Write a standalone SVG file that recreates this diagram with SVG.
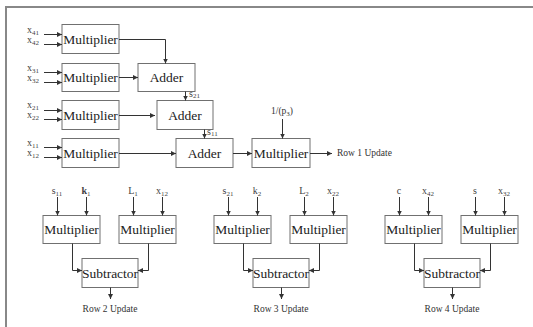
<svg xmlns="http://www.w3.org/2000/svg" width="533" height="327" viewBox="0 0 533 327">
<defs>
<marker id="ah" viewBox="0 0 6 6" refX="6" refY="3" markerWidth="5" markerHeight="5" orient="auto" markerUnits="userSpaceOnUse">
<path d="M0,0 L6,3 L0,6 z" fill="#333"/>
</marker>
<style>
text{font-family:"Liberation Serif","Times New Roman",serif}
.box{fill:#fff;stroke:#707070;stroke-width:1}
.lbl{font-size:13.5px;fill:#222;text-anchor:middle}
.in{font-size:10px;fill:#444}
.sm{font-size:9.5px;fill:#333}
.sub{font-size:7px}
.c{fill:none;stroke:#333;stroke-width:1;marker-end:url(#ah)}
.frame{fill:none;stroke:#888;stroke-width:2}
</style>
</defs>
<rect width="533" height="327" fill="#fff"/>
<path class="frame" d="M6,327 V7 H533"/>

<g id="top-inputs">
<text class="in" x="27" y="33">x<tspan class="sub" dy="2">41</tspan></text>
<text class="in" x="27" y="43">x<tspan class="sub" dy="2">42</tspan></text>
<text class="in" x="27" y="71">x<tspan class="sub" dy="2">31</tspan></text>
<text class="in" x="27" y="81">x<tspan class="sub" dy="2">32</tspan></text>
<text class="in" x="27" y="108">x<tspan class="sub" dy="2">21</tspan></text>
<text class="in" x="27" y="118">x<tspan class="sub" dy="2">22</tspan></text>
<text class="in" x="27" y="146">x<tspan class="sub" dy="2">11</tspan></text>
<text class="in" x="27" y="156">x<tspan class="sub" dy="2">12</tspan></text>
</g>

<g id="mult1"><rect class="box" x="62" y="24.5" width="57" height="29"/><text class="lbl" x="90.5" y="44">Multiplier</text></g>
<g id="mult2"><rect class="box" x="62" y="63.5" width="57" height="28"/><text class="lbl" x="90.5" y="82">Multiplier</text></g>
<g id="mult3"><rect class="box" x="62" y="100.5" width="57" height="29"/><text class="lbl" x="90.5" y="120">Multiplier</text></g>
<g id="mult4"><rect class="box" x="62" y="138.5" width="57" height="29"/><text class="lbl" x="90.5" y="158">Multiplier</text></g>
<g id="adder1"><rect class="box" x="138" y="63.5" width="57" height="28"/><text class="lbl" x="166.5" y="82">Adder</text></g>
<g id="adder2"><rect class="box" x="157" y="100.5" width="56" height="29"/><text class="lbl" x="185" y="120">Adder</text></g>
<g id="adder3"><rect class="box" x="176" y="138.5" width="57" height="29"/><text class="lbl" x="204.5" y="158">Adder</text></g>
<g id="mult5"><rect class="box" x="252" y="138.5" width="58" height="29"/><text class="lbl" x="281" y="158">Multiplier</text></g>
<g id="labels-top">
<text class="in" x="189" y="97">s<tspan class="sub" dy="1">21</tspan></text>
<text class="in" x="207" y="135">s<tspan class="sub" dy="1">11</tspan></text>
<text class="sm" x="282" y="114" text-anchor="middle">1/(p<tspan class="sub" dy="2">3</tspan><tspan dy="-2">)</tspan></text>
<text class="sm" x="337" y="156">Row 1 Update</text>
</g>

<g id="sec1">
<g id="s1-multA"><rect class="box" x="43" y="215.5" width="57" height="28"/><text class="lbl" x="71.5" y="234">Multiplier</text></g>
<g id="s1-multB"><rect class="box" x="119" y="215.5" width="57" height="28"/><text class="lbl" x="147.5" y="234">Multiplier</text></g>
<g id="s1-sub"><rect class="box" x="82" y="258.5" width="56" height="29"/><text class="lbl" x="110" y="278">Subtractor</text></g>
<text class="in" x="57" y="194" text-anchor="middle">s<tspan class="sub" dy="2">11</tspan></text>
<text class="in" x="86" y="194" text-anchor="middle"><tspan font-weight="bold">k</tspan><tspan class="sub" dy="2">1</tspan></text>
<text class="in" x="133" y="194" text-anchor="middle">L<tspan class="sub" dy="2">1</tspan></text>
<text class="in" x="162" y="194" text-anchor="middle">x<tspan class="sub" dy="2">12</tspan></text>
<text class="sm" x="110" y="312" text-anchor="middle">Row 2 Update</text>
</g>
<g id="sec2">
<g id="s2-multA"><rect class="box" x="214" y="215.5" width="57" height="28"/><text class="lbl" x="242.5" y="234">Multiplier</text></g>
<g id="s2-multB"><rect class="box" x="290" y="215.5" width="57" height="28"/><text class="lbl" x="318.5" y="234">Multiplier</text></g>
<g id="s2-sub"><rect class="box" x="253" y="258.5" width="56" height="29"/><text class="lbl" x="281" y="278">Subtractor</text></g>
<text class="in" x="228" y="194" text-anchor="middle">s<tspan class="sub" dy="2">21</tspan></text>
<text class="in" x="257" y="194" text-anchor="middle">k<tspan class="sub" dy="2">2</tspan></text>
<text class="in" x="304" y="194" text-anchor="middle">L<tspan class="sub" dy="2">2</tspan></text>
<text class="in" x="333" y="194" text-anchor="middle">x<tspan class="sub" dy="2">22</tspan></text>
<text class="sm" x="281" y="312" text-anchor="middle">Row 3 Update</text>
</g>
<g id="sec3">
<g id="s3-multA"><rect class="box" x="385" y="215.5" width="57" height="28"/><text class="lbl" x="413.5" y="234">Multiplier</text></g>
<g id="s3-multB"><rect class="box" x="461" y="215.5" width="57" height="28"/><text class="lbl" x="489.5" y="234">Multiplier</text></g>
<g id="s3-sub"><rect class="box" x="424" y="258.5" width="56" height="29"/><text class="lbl" x="452" y="278">Subtractor</text></g>
<text class="in" x="399" y="194" text-anchor="middle">c</text>
<text class="in" x="428" y="194" text-anchor="middle">x<tspan class="sub" dy="2">42</tspan></text>
<text class="in" x="475" y="194" text-anchor="middle">s</text>
<text class="in" x="504" y="194" text-anchor="middle">x<tspan class="sub" dy="2">32</tspan></text>
<text class="sm" x="452" y="312" text-anchor="middle">Row 4 Update</text>
</g>

<g id="connectors">
<path class="c" d="M44,34.5 H62"/><path class="c" d="M44,44.5 H62"/>
<path class="c" d="M44,72.5 H62"/><path class="c" d="M44,82.5 H62"/>
<path class="c" d="M44,110.5 H62"/><path class="c" d="M44,119.5 H62"/>
<path class="c" d="M44,147.5 H62"/><path class="c" d="M44,157.5 H62"/>
<path class="c" d="M119,39.5 H165.5 V63.5"/>
<path class="c" d="M119,77.5 H138"/>
<path class="c" d="M119,115.5 H155"/>
<path class="c" d="M119,153.5 H176"/>
<path class="c" d="M185.5,91.5 V100.5"/>
<path class="c" d="M204.5,129.5 V138.5"/>
<path class="c" d="M233,153.5 H252"/>
<path class="c" d="M282.5,119 V138.5"/>
<path class="c" d="M310,153.5 H332"/>

<path class="c" d="M57.5,197 V215.5"/><path class="c" d="M86.5,197 V215.5"/>
<path class="c" d="M133.5,197 V215.5"/><path class="c" d="M162.5,197 V215.5"/>
<path class="c" d="M72.5,243.5 V270.5 H82"/><path class="c" d="M148.5,243.5 V270.5 H138"/>
<path class="c" d="M110.5,287.5 V299"/>

<path class="c" d="M228.5,197 V215.5"/><path class="c" d="M257.5,197 V215.5"/>
<path class="c" d="M304.5,197 V215.5"/><path class="c" d="M333.5,197 V215.5"/>
<path class="c" d="M243.5,243.5 V270.5 H253"/><path class="c" d="M319.5,243.5 V270.5 H309"/>
<path class="c" d="M281.5,287.5 V299"/>

<path class="c" d="M399.5,197 V215.5"/><path class="c" d="M428.5,197 V215.5"/>
<path class="c" d="M475.5,197 V215.5"/><path class="c" d="M504.5,197 V215.5"/>
<path class="c" d="M414.5,243.5 V270.5 H424"/><path class="c" d="M490.5,243.5 V270.5 H480"/>
<path class="c" d="M452.5,287.5 V299"/>
</g>
</svg>
